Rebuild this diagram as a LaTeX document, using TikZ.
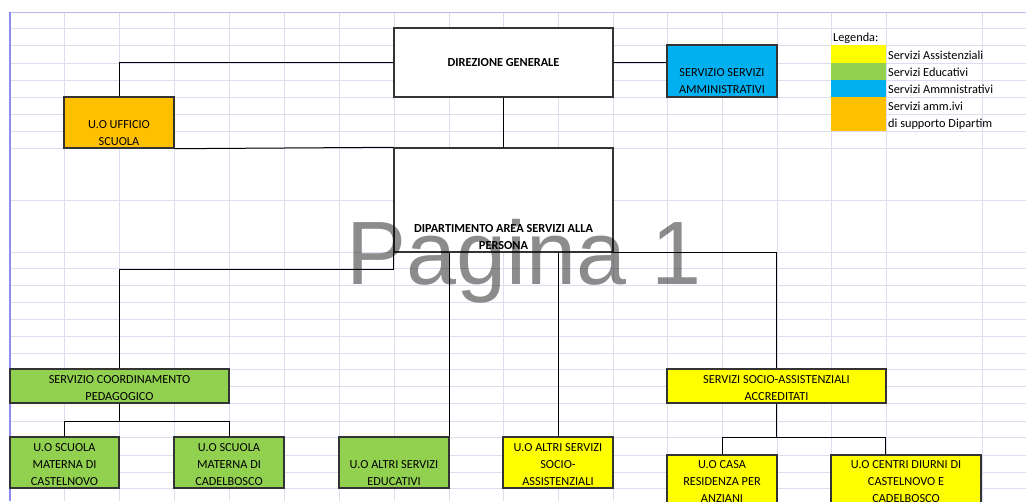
\documentclass[tikz,border=0pt]{standalone}
\usepackage{fontspec}
\setmainfont{Carlito}
\newfontfamily\wmfont{Liberation Sans}
\usetikzlibrary{positioning}
\definecolor{gridc}{RGB}{220,222,238}
\definecolor{bordl}{RGB}{140,140,238}
\definecolor{bordt}{RGB}{185,185,242}
\definecolor{giallo}{RGB}{255,255,0}
\definecolor{verde}{RGB}{146,208,80}
\definecolor{azzurro}{RGB}{0,176,240}
\definecolor{arancio}{RGB}{255,192,0}
\tikzset{
  box/.style={draw=black!80, line width=1.4pt, inner sep=0pt, minimum width=110pt, minimum height=51pt},
  txt/.style={inner sep=0pt, align=center, font=\fontsize{12.3}{17}\selectfont},
  link/.style={draw=black, line width=1pt},
  swatch/.style={inner sep=0pt, minimum width=55pt, minimum height=17pt},
  leg/.style={inner sep=0pt, anchor=base west, font=\fontsize{12.3}{17}\selectfont},
  watermark/.style={inner sep=0pt, anchor=base, text=black, text opacity=0.45, font=\wmfont\fontsize{90}{90}\selectfont},
}

\begin{document}
\begin{tikzpicture}[x=1pt,y=-1pt]
        \useasboundingbox (0,0) rectangle (1026,501);
        \clip (0,0) rectangle (1026,501);
        \fill[white] (0,0) rectangle (1026,501);
        \foreach \x in {64,119,174,229,284,339,394,449,503,558,613,667,722,777,831,886,982}
          \draw[gridc, line width=0.8pt] (\x,12) -- (\x,501);
        \foreach \y in {28.5,45.5,63,80,97,114,131,148,200,252,268.5,285,302,319,336,353,369.5,386,403,421,437,455,472,488}
          \draw[gridc, line width=0.8pt] (10,\y) -- (1026,\y);
        \draw[bordt, line width=1pt] (10,12) -- (1026,12);
        \draw[bordl, line width=1.6pt] (10,12) -- (10,501);

        \node[box, fill=white, minimum width=219pt, minimum height=69pt] (dg) at (503.5,62.5) {};
        \node[box, fill=azzurro, minimum height=52pt] (ssa) at (722,71) {};
        \node[box, fill=arancio] (ufs) at (119,122.5) {};
        \node[box, fill=white, minimum width=219pt, minimum height=104pt] (dip) at (503.5,200) {};
        \node[box, fill=verde, minimum width=219pt, minimum height=34pt] (scp) at (119.5,386) {};
        \node[box, fill=verde, minimum width=109pt] (smc) at (64.5,462.5) {};
        \node[box, fill=verde] (smcb) at (229,462.5) {};
        \node[box, fill=verde] (ase) at (394,462.5) {};
        \node[box, fill=giallo] (asa) at (558,462.5) {};
        \node[box, fill=giallo, minimum width=219pt, minimum height=34pt] (ssac) at (776.5,386) {};
        \node[box, fill=giallo] (cra) at (722,480.5) {};
        \node[box, fill=giallo, minimum width=150pt] (cdc) at (906,480.5) {};

        \node[txt, font=\fontsize{12.3}{17}\selectfont\bfseries] (dg-t) at (dg) {DIREZIONE GENERALE};
        \node[txt, above=3.5pt of ssa.south] (ssa-t) {SERVIZIO SERVIZI\\AMMINISTRATIVI};
        \node[txt, above=3pt of ufs.south] (ufs-t) {U.O UFFICIO\\SCUOLA};
        \node[txt, font=\fontsize{12.3}{17}\selectfont\bfseries, above=3pt of dip.south] (dip-t) {DIPARTIMENTO AREA SERVIZI ALLA\\PERSONA};
        \node[txt, above=3pt of scp.south] (scp-t) {SERVIZIO COORDINAMENTO\\PEDAGOGICO};
        \node[txt, above=3pt of smc.south] (smc-t) {U.O SCUOLA\\MATERNA DI\\CASTELNOVO};
        \node[txt, above=3pt of smcb.south] (smcb-t) {U.O SCUOLA\\MATERNA DI\\CADELBOSCO};
        \node[txt, above=3pt of ase.south] (ase-t) {U.O ALTRI SERVIZI\\EDUCATIVI};
        \node[txt, above=3pt of asa.south] (asa-t) {U.O ALTRI SERVIZI\\SOCIO-\\ASSISTENZIALI};
        \node[txt, above=3pt of ssac.south] (ssac-t) {SERVIZI SOCIO-ASSISTENZIALI\\ACCREDITATI};
        \node[txt, above=4pt of cra.south] (cra-t) {U.O CASA\\RESIDENZA PER\\ANZIANI};
        \node[txt, above=4pt of cdc.south] (cdc-t) {U.O CENTRI DIURNI DI\\CASTELNOVO E\\CADELBOSCO};

        \draw[link] (dg.west) -| (ufs.north);
        \draw[link] (dg.east) -- (dg.east -| ssa.west);
        \draw[link] (dg.south) -- (dip.north);
        \draw[link] (ufs.south east) -- (dip.north west);
        \draw[link] (dip.south west) -- ++(0,16.5) -| (scp.north);
        \draw[link] (ase.north east |- dip.south) -- (ase.north east);
        \draw[link] (asa.north |- dip.south) -- (asa.north);
        \draw[link] (dip.south east) -| (ssac.north);
        \draw[link] (scp.south) -- ++(0,17.5) coordinate (j1) -| (smc.north);
        \draw[link] (j1) -| (smcb.north);
        \draw[link] (ssac.south) -- ++(0,34) coordinate (j2) -| (cra.north);
        \draw[link] (j2) -| ([xshift=55pt]cdc.north west);

        \node[leg] (leg) at (833,41) {Legenda:};
        \node[swatch, fill=giallo, minimum height=18pt] (l1) at (858.5,54) {};
        \node[swatch, fill=verde] (l2) at (858.5,71.5) {};
        \node[swatch, fill=azzurro] (l3) at (858.5,88.5) {};
        \node[swatch, fill=arancio, minimum height=34pt] (l4) at (858.5,114) {};
        \node[leg] (l1-t) at (888,59) {Servizi Assistenziali};
        \node[leg] (l2-t) at (888,76) {Servizi Educativi};
        \node[leg] (l3-t) at (888,93) {Servizi Ammnistrativi};
        \node[leg] (l4-t) at (888,110) {Servizi amm.ivi};
        \node[leg] (l5-t) at (888,127) {di supporto Dipartim};

        \node[watermark] (wm) at (524,284) {Pagina 1};
      \end{tikzpicture}
\end{document}
